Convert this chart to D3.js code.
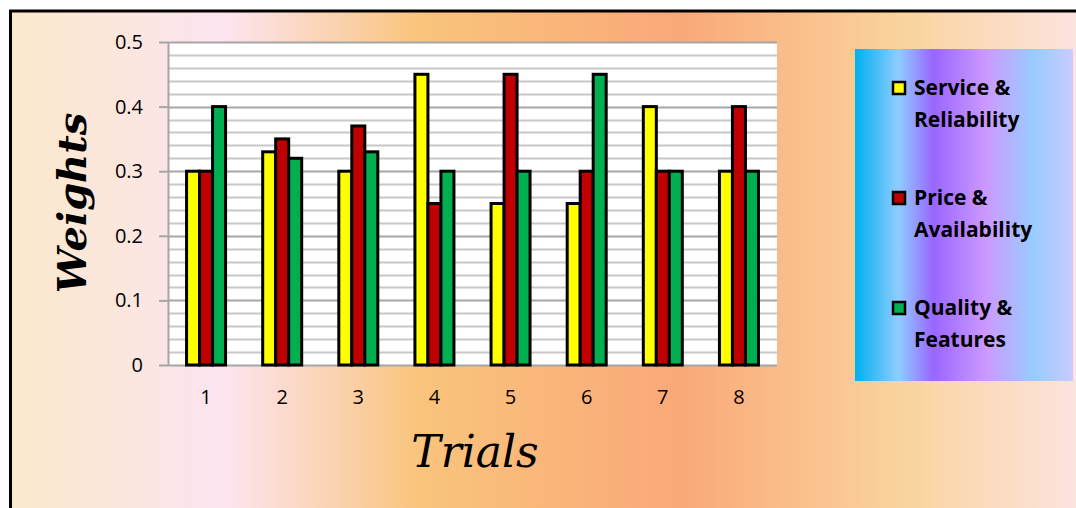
<!DOCTYPE html>
<html>
<head>
<meta charset="utf-8">
<script src="https://cdn.jsdelivr.net/npm/d3@7"></script>
<style>
  html, body { margin: 0; padding: 0; background: #ffffff; }
  svg { display: block; }
</style>
</head>
<body>
<svg id="chart" width="1076" height="508"></svg>
<script>
// Weights given to each criterion across eight trials
const trials = ["1", "2", "3", "4", "5", "6", "7", "8"];
const seriesNames = ["Service &\nReliability", "Price &\nAvailability", "Quality &\nFeatures"];
const serviceReliability = [0.30, 0.33, 0.30, 0.45, 0.25, 0.25, 0.40, 0.30];
const priceAvailability  = [0.30, 0.35, 0.37, 0.25, 0.45, 0.30, 0.30, 0.40];
const qualityFeatures    = [0.40, 0.32, 0.33, 0.30, 0.30, 0.45, 0.30, 0.30];
const yTicks = [0, 0.1, 0.2, 0.3, 0.4, 0.5];
const seriesColors = ["#FFFF00", "#C00000", "#00B050"];

const seriesValues = [serviceReliability, priceAvailability, qualityFeatures];

const svg = d3.select("#chart");
const defs = svg.append("defs");

// Chart-area background gradient
const bg = defs.append("linearGradient").attr("id", "bgGrad")
  .attr("x1", "0%").attr("x2", "100%").attr("y1", "0%").attr("y2", "0%");
[[0, "#FBE9CB"], [0.20, "#FCE4F0"], [0.38, "#F9C47C"], [0.62, "#FAA878"], [0.83, "#FAD49E"], [1, "#FCE4E4"]]
  .forEach(([o, c]) => bg.append("stop").attr("offset", o).attr("stop-color", c));

// Legend background gradient
const lg = defs.append("linearGradient").attr("id", "legGrad")
  .attr("x1", "0%").attr("x2", "100%").attr("y1", "0%").attr("y2", "0%");
[[0, "#00B0F0"], [0.2, "#90CCFF"], [0.36, "#9966FF"], [0.6, "#CC99FF"], [0.82, "#99CCFF"], [1, "#C8CCFF"]]
  .forEach(([o, c]) => lg.append("stop").attr("offset", o).attr("stop-color", c));

// Chart area with border on top and left
svg.append("rect").attr("x", 10).attr("y", 11).attr("width", 1080).attr("height", 510)
  .attr("fill", "url(#bgGrad)");
svg.append("path").attr("d", "M10.5,508 V11 H1076")
  .attr("fill", "none").attr("stroke", "#000").attr("stroke-width", 3);

// Plot area
const plot = { left: 168, right: 777, top: 42, bottom: 365 };

const x = d3.scaleBand().domain(trials).range([plot.left, plot.right]).paddingInner(0).paddingOuter(0);
const y = d3.scaleLinear().domain([0, 0.5]).range([plot.bottom, plot.top]);

svg.append("rect").attr("x", plot.left).attr("y", plot.top)
  .attr("width", plot.right - plot.left).attr("height", plot.bottom - plot.top)
  .attr("fill", "#ffffff");

// Minor and major gridlines
const minorTicks = d3.range(0, 0.5001, 0.02);
svg.append("g").selectAll("line").data(minorTicks).join("line")
  .attr("x1", plot.left).attr("x2", plot.right)
  .attr("y1", d => Math.round(y(d)) + 0.5).attr("y2", d => Math.round(y(d)) + 0.5)
  .attr("stroke", d => (Math.abs(d * 10 - Math.round(d * 10)) < 1e-6) ? "#A6A6A6" : "#C8C8C8")
  .attr("stroke-width", 2);

// Y axis
const yAxis = d3.axisLeft(y).tickValues(yTicks).tickSize(9).tickPadding(16)
  .tickFormat(d => d === 0 ? "0" : d3.format(".1f")(d));
const gy = svg.append("g").attr("transform", `translate(${plot.left},0)`).call(yAxis);
gy.select(".domain").attr("stroke", "#A6A6A6").attr("stroke-width", 2)
  .attr("d", `M0.5,${plot.bottom}V${plot.top}`);
gy.selectAll(".tick line").attr("stroke", "#A6A6A6").attr("stroke-width", 2);
gy.selectAll(".tick text").attr("font-family", "'Open Sans', sans-serif")
  .attr("font-size", 20).attr("fill", "#000");

// X axis labels
const xAxis = d3.axisBottom(x).tickSize(0).tickPadding(25);
const gx = svg.append("g").attr("transform", `translate(0,${plot.bottom})`).call(xAxis);
gx.select(".domain").remove();
gx.selectAll(".tick text").attr("font-family", "'Open Sans', sans-serif")
  .attr("font-size", 20).attr("fill", "#000");

// Grouped bars
const inner = d3.scaleBand().domain(d3.range(seriesValues.length)).range([0, 39]);
const groupOffset = (x.bandwidth() - 39) / 2;
const groups = svg.append("g").selectAll("g").data(trials).join("g")
  .attr("transform", d => `translate(${x(d) + groupOffset},0)`);
groups.selectAll("rect")
  .data((d, i) => seriesValues.map((vals, s) => ({ s, v: vals[i] })))
  .join("rect")
  .attr("x", d => inner(d.s))
  .attr("y", d => y(d.v))
  .attr("width", inner.bandwidth())
  .attr("height", d => y(0) - y(d.v))
  .attr("fill", d => seriesColors[d.s])
  .attr("stroke", "#000").attr("stroke-width", 3);

// Axis titles
svg.append("text").attr("x", 475).attr("y", 467).attr("text-anchor", "middle")
  .attr("font-family", "'DejaVu Serif', serif").attr("font-style", "italic")
  .attr("font-size", 44).attr("fill", "#000").text("Trials");
svg.append("text").attr("transform", "translate(86,203) rotate(-90)").attr("text-anchor", "middle")
  .attr("font-family", "'DejaVu Serif', serif").attr("font-style", "italic").attr("font-weight", "bold")
  .attr("font-size", 40).attr("fill", "#000").text("Weights");

// Legend
svg.append("rect").attr("x", 855).attr("y", 49).attr("width", 218).attr("height", 332)
  .attr("fill", "url(#legGrad)");
const legend = svg.append("g").selectAll("g").data(seriesNames).join("g")
  .attr("transform", (d, i) => `translate(893,${88 + i * 110})`);
legend.append("rect").attr("x", 0).attr("y", -6).attr("width", 12).attr("height", 12)
  .attr("fill", (d, i) => seriesColors[i]).attr("stroke", "#000").attr("stroke-width", 2.5);
legend.append("text").attr("x", 21).attr("y", 7)
  .attr("font-family", "'Open Sans', sans-serif").attr("font-weight", "bold")
  .attr("font-size", 21).attr("fill", "#000")
  .selectAll("tspan").data(d => d.split("\n")).join("tspan")
  .attr("x", 21).attr("dy", (d, i) => i === 0 ? 0 : 32).text(d => d);
</script>
</body>
</html>
